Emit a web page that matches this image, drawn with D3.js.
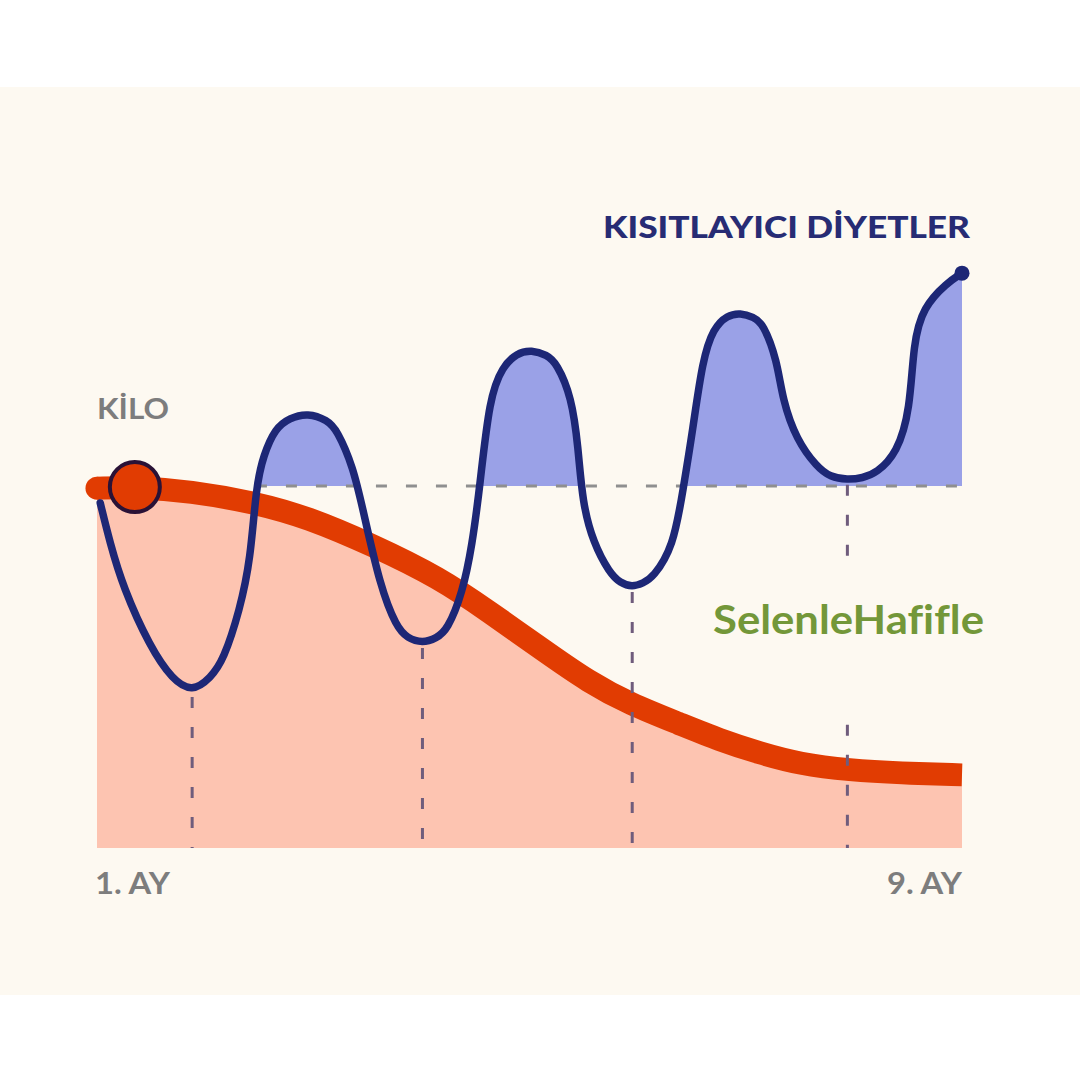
<!DOCTYPE html>
<html>
<head>
<meta charset="utf-8">
<script src="https://cdn.jsdelivr.net/npm/d3@7"></script>
<style>
  html, body { margin: 0; padding: 0; background: #ffffff; }
  svg { display: block; }
  text { font-variant-ligatures: none; font-feature-settings: "liga" 0; }
</style>
</head>
<body>
<svg id="chart" width="1080" height="1080"></svg>
<script>
// ---- data ----
const xTickMonths = [1, 9];
const xTickLabels = ["1. AY", "9. AY"];
const yLabel = "KİLO";
const blueLabel = "KISITLAYICI DİYETLER";
const watermark = "SelenleHafifle";
const baselineValue = 100;
const baselineStartMonth = 2.47;

// "Kısıtlayıcı diyetler" – yo-yo weight curve (month, relative weight)
const blueMonths = [1.03, 1.12, 1.24, 1.49, 1.70, 1.88, 2.05, 2.17, 2.32, 2.42, 2.47, 2.54, 2.65, 2.78, 2.95,
  3.13, 3.22, 3.37, 3.46, 3.62, 3.77, 3.87, 4.01, 4.14, 4.24, 4.38, 4.47, 4.54, 4.63, 4.75, 4.88, 5.02,
  5.16, 5.25, 5.39, 5.45, 5.49, 5.59, 5.74, 5.84, 5.95, 6.05, 6.14, 6.33, 6.42, 6.51, 6.60, 6.70, 6.83,
  6.95, 7.07, 7.16, 7.29, 7.34, 7.47, 7.66, 7.78, 7.94, 8.08, 8.21, 8.40, 8.52, 8.55, 8.64, 8.86, 9.00];
const blueValues = [95.3, 84.3, 72.1, 55.5, 46.4, 43.1, 47.0, 51.9, 65.7, 79.6, 99.7, 108.6, 116.0, 118.8, 120.2,
  118.2, 115.5, 105.2, 93.4, 72.1, 61.0, 58.0, 56.6, 58.0, 60.2, 70.4, 83.7, 99.7, 124.6, 132.9, 136.7, 137.6,
  136.2, 134.0, 124.6, 110.8, 95.3, 84.3, 76.0, 73.2, 72.1, 73.2, 74.6, 83.1, 98.9, 115.5, 134.8, 143.6, 147.2,
  147.8, 146.7, 145.0, 134.8, 123.8, 112.7, 105.2, 102.5, 101.7, 102.2, 103.6, 109.1, 121.0, 139.5, 149.4, 156.1, 158.8];
const troughMonths = [1.88, 4.01, 5.95, 7.94];

// healthy weight loss curve
const redMonths = [1.00, 1.35, 1.86, 2.48, 2.94, 3.55, 4.17, 4.63, 5.10, 5.56, 5.93, 6.39, 6.76, 7.13, 7.50, 7.96, 8.43, 9.00];
const redValues = [99.4, 99.7, 98.6, 95.3, 91.4, 83.7, 74.6, 65.2, 55.2, 45.6, 39.8, 34.3, 29.8, 26.2, 23.2, 21.5, 20.7, 20.2];
const redDotIndex = 1;

// ---- drawing ----
const svg = d3.select("#chart");
const x = d3.scaleLinear().domain([1, 9]).range([97, 962]);
const y = d3.scaleLinear().domain([0, 100]).range([848, 486]);

const blue = blueMonths.map((m, i) => ({ m, v: blueValues[i] }));
const red = redMonths.map((m, i) => ({ m, v: redValues[i] }));
const troughs = troughMonths.map(m => blue[blueMonths.indexOf(m)]);
const curve = d3.curveBasis;

const COL = {
  bg: "#fdf9f1", pink: "#fdc4b1", red: "#e13c02", blueLine: "#1d2776", blueFill: "#9aa1e7",
  dashH: "#8f8f8f", dashV: "#6f5c7c", dotStroke: "#2a1236", text: "#7d7d7d", title: "#272c74", green: "#739739"
};

svg.append("rect").attr("x", 0).attr("y", 0).attr("width", 1080).attr("height", 1080).attr("fill", "#ffffff");
svg.append("rect").attr("x", 0).attr("y", 87).attr("width", 1080).attr("height", 908).attr("fill", COL.bg);

const defs = svg.append("defs");
defs.append("clipPath").attr("id", "aboveBase")
  .append("rect").attr("x", x(1)).attr("y", 0).attr("width", x(9) - x(1)).attr("height", y(baselineValue));

// pink area under red line
svg.append("path")
  .datum(red)
  .attr("fill", COL.pink)
  .attr("d", d3.area().curve(curve).x(d => x(d.m)).y0(y(0)).y1(d => y(d.v)));

// blue fill above the baseline
svg.append("path")
  .datum(blue)
  .attr("clip-path", "url(#aboveBase)")
  .attr("fill", COL.blueFill)
  .attr("d", d3.area().curve(curve).x(d => x(d.m)).y0(y(baselineValue)).y1(d => y(d.v)));

// horizontal dashed baseline
svg.append("line")
  .attr("x1", x(baselineStartMonth)).attr("x2", x(9))
  .attr("y1", y(baselineValue)).attr("y2", y(baselineValue))
  .attr("stroke", COL.dashH).attr("stroke-width", 3).attr("stroke-dasharray", "11 19");

// red line
svg.append("path")
  .datum(red)
  .attr("fill", "none")
  .attr("stroke", COL.red).attr("stroke-width", 23)
  .attr("d", d3.line().curve(curve).x(d => x(d.m)).y(d => y(d.v)));
svg.append("circle").attr("cx", x(redMonths[0])).attr("cy", y(redValues[0])).attr("r", 11.5).attr("fill", COL.red);

// vertical dashed lines from the troughs
svg.selectAll("line.vdash")
  .data(troughs)
  .join("line")
  .attr("class", "vdash")
  .attr("x1", d => x(d.m)).attr("x2", d => x(d.m))
  .attr("y1", d => y(d.v) + 5).attr("y2", y(0))
  .attr("stroke", COL.dashV).attr("stroke-width", 3).attr("stroke-dasharray", "11 19");

// blue line
svg.append("path")
  .datum(blue)
  .attr("fill", "none")
  .attr("stroke", COL.blueLine).attr("stroke-width", 7.5).attr("stroke-linecap", "round").attr("stroke-linejoin", "round")
  .attr("d", d3.line().curve(curve).x(d => x(d.m)).y(d => y(d.v)));

// watermark backing box
svg.append("rect").attr("x", 745).attr("y", 560).attr("width", 240).attr("height", 164).attr("fill", COL.bg);

// dots
svg.append("circle")
  .attr("cx", x(redMonths[redDotIndex])).attr("cy", y(redValues[redDotIndex])).attr("r", 25)
  .attr("fill", COL.red).attr("stroke", COL.dotStroke).attr("stroke-width", 4);
svg.append("circle")
  .attr("cx", x(blueMonths[blueMonths.length - 1])).attr("cy", y(blueValues[blueValues.length - 1])).attr("r", 7.5)
  .attr("fill", COL.blueLine);

// texts
const font = "Lato, 'Open Sans', 'DejaVu Sans', sans-serif";
svg.append("text")
  .attr("x", 603).attr("y", 238)
  .attr("font-family", font).attr("font-weight", 900).attr("font-size", 31)
  .attr("fill", COL.title)
  .attr("textLength", 367).attr("lengthAdjust", "spacingAndGlyphs")
  .text(blueLabel);

svg.append("text")
  .attr("x", 97).attr("y", 419)
  .attr("font-family", font).attr("font-weight", 700).attr("font-size", 28)
  .attr("fill", COL.text)
  .attr("textLength", 72).attr("lengthAdjust", "spacingAndGlyphs")
  .text(yLabel);

svg.selectAll("text.xtick")
  .data(xTickMonths)
  .join("text")
  .attr("class", "xtick")
  .attr("x", (m, i) => i === 0 ? x(m) - 2 : x(m) - 75)
  .attr("y", 894)
  .attr("font-family", font).attr("font-weight", 700).attr("font-size", 30)
  .attr("fill", COL.text)
  .attr("textLength", 75).attr("lengthAdjust", "spacingAndGlyphs")
  .text((m, i) => xTickLabels[i]);

svg.append("text")
  .attr("x", 713).attr("y", 634)
  .attr("font-family", font).attr("font-weight", 700).attr("font-size", 41)
  .attr("fill", COL.green)
  .attr("textLength", 271).attr("lengthAdjust", "spacingAndGlyphs")
  .text(watermark);
</script>
</body>
</html>
